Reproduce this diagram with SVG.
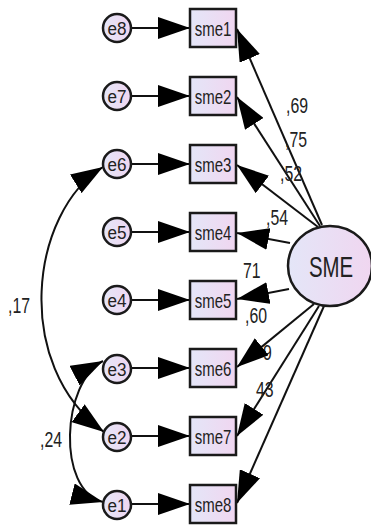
<svg xmlns="http://www.w3.org/2000/svg" width="371" height="529" viewBox="0 0 371 529">
<style>
.nd{stroke:#1a1a1a;stroke-width:2.5;fill:url(#g)}
.ln{stroke:#111;stroke-width:2;fill:none}
.t{font-family:"Liberation Sans",Arial,sans-serif;fill:#222}
.bx{font-size:20px;text-anchor:middle}
.ee{font-size:19px;text-anchor:middle}
.lb{font-size:22px}
</style>
<defs>
<linearGradient id="g" x1="0" y1="0" x2="1" y2="0">
<stop offset="0" stop-color="#e4e6f8"/>
<stop offset="1" stop-color="#f0d6f0"/>
</linearGradient>
<marker id="ah" markerUnits="userSpaceOnUse" viewBox="0 0 32 22" refX="32" refY="11" markerWidth="32" markerHeight="22" orient="auto">
<path d="M0,0 L32,11 L0,22 z" fill="#000"/>
</marker>
<marker id="as" markerUnits="userSpaceOnUse" viewBox="0 0 32 22" refX="32" refY="11" markerWidth="32" markerHeight="22" orient="auto-start-reverse">
<path d="M0,0 L32,11 L0,22 z" fill="#000"/>
</marker>
</defs>
<rect width="371" height="529" fill="#fff"/>

<g id="labels-under">
<text class="t lb" transform="translate(243,278) scale(0.72,1)">71</text>
<text class="t lb" transform="translate(263,360) scale(0.72,1)">9</text>
</g>

<g id="connectors">
<line class="ln" x1="131" y1="28" x2="190" y2="28" marker-end="url(#ah)"/>
<line class="ln" x1="131" y1="96" x2="190" y2="96" marker-end="url(#ah)"/>
<line class="ln" x1="131" y1="164" x2="190" y2="164" marker-end="url(#ah)"/>
<line class="ln" x1="131" y1="232" x2="190" y2="232" marker-end="url(#ah)"/>
<line class="ln" x1="131" y1="300" x2="190" y2="300" marker-end="url(#ah)"/>
<line class="ln" x1="131" y1="368" x2="190" y2="368" marker-end="url(#ah)"/>
<line class="ln" x1="131" y1="436" x2="190" y2="436" marker-end="url(#ah)"/>
<line class="ln" x1="131" y1="504" x2="190" y2="504" marker-end="url(#ah)"/>

<line class="ln" x1="322" y1="225" x2="237" y2="29" marker-end="url(#ah)"/>
<line class="ln" x1="320" y1="226" x2="237" y2="97" marker-end="url(#ah)"/>
<line class="ln" x1="318" y1="227" x2="237" y2="165" marker-end="url(#ah)"/>
<line class="ln" x1="290" y1="243" x2="237" y2="233" marker-end="url(#ah)"/>
<line class="ln" x1="289" y1="289" x2="237" y2="299" marker-end="url(#ah)"/>
<line class="ln" x1="314" y1="304" x2="237" y2="367" marker-end="url(#ah)"/>
<line class="ln" x1="319" y1="306" x2="237" y2="436" marker-end="url(#ah)"/>
<line class="ln" x1="324" y1="306" x2="237" y2="503" marker-end="url(#ah)"/>

<path class="ln" d="M103,167 C30,212 12,365 104,432" marker-start="url(#as)" marker-end="url(#ah)"/>
<path class="ln" d="M103,361 C62,382 56,490 103,502" marker-start="url(#as)" marker-end="url(#ah)"/>
</g>

<g id="e8"><ellipse class="nd" cx="117" cy="28" rx="14" ry="14"/><text class="t ee" transform="translate(117,35) scale(0.9,1)">e8</text></g>
<g id="e7"><ellipse class="nd" cx="117" cy="96" rx="14" ry="14"/><text class="t ee" transform="translate(117,103) scale(0.9,1)">e7</text></g>
<g id="e6"><ellipse class="nd" cx="117" cy="164" rx="14" ry="14"/><text class="t ee" transform="translate(117,171) scale(0.9,1)">e6</text></g>
<g id="e5"><ellipse class="nd" cx="117" cy="232" rx="14" ry="14"/><text class="t ee" transform="translate(117,239) scale(0.9,1)">e5</text></g>
<g id="e4"><ellipse class="nd" cx="117" cy="300" rx="14" ry="14"/><text class="t ee" transform="translate(117,307) scale(0.9,1)">e4</text></g>
<g id="e3"><ellipse class="nd" cx="117" cy="369" rx="14" ry="14"/><text class="t ee" transform="translate(117,376) scale(0.9,1)">e3</text></g>
<g id="e2"><ellipse class="nd" cx="117" cy="437" rx="14" ry="14"/><text class="t ee" transform="translate(117,444) scale(0.9,1)">e2</text></g>
<g id="e1"><ellipse class="nd" cx="117" cy="505" rx="14" ry="14"/><text class="t ee" transform="translate(117,512) scale(0.9,1)">e1</text></g>

<g id="sme1"><rect class="nd" x="190" y="9" width="46" height="38"/><text class="t bx" transform="translate(213,36) scale(0.75,1)">sme1</text></g>
<g id="sme2"><rect class="nd" x="190" y="77" width="46" height="38"/><text class="t bx" transform="translate(213,104) scale(0.75,1)">sme2</text></g>
<g id="sme3"><rect class="nd" x="190" y="145" width="46" height="38"/><text class="t bx" transform="translate(213,172) scale(0.75,1)">sme3</text></g>
<g id="sme4"><rect class="nd" x="190" y="213" width="46" height="38"/><text class="t bx" transform="translate(213,240) scale(0.75,1)">sme4</text></g>
<g id="sme5"><rect class="nd" x="190" y="281" width="46" height="38"/><text class="t bx" transform="translate(213,308) scale(0.75,1)">sme5</text></g>
<g id="sme6"><rect class="nd" x="190" y="349" width="46" height="38"/><text class="t bx" transform="translate(213,376) scale(0.75,1)">sme6</text></g>
<g id="sme7"><rect class="nd" x="190" y="417" width="46" height="38"/><text class="t bx" transform="translate(213,444) scale(0.75,1)">sme7</text></g>
<g id="sme8"><rect class="nd" x="190" y="485" width="46" height="38"/><text class="t bx" transform="translate(213,512) scale(0.75,1)">sme8</text></g>

<g id="SME"><ellipse class="nd" cx="330" cy="266" rx="42" ry="40"/><text class="t" font-size="30" text-anchor="middle" transform="translate(331,277) scale(0.68,1)">SME</text></g>

<g id="labels">
<text class="t lb" transform="translate(286,113) scale(0.72,1)">,69</text>
<text class="t lb" transform="translate(285,147) scale(0.72,1)">,75</text>
<text class="t lb" transform="translate(280,181) scale(0.72,1)">,52</text>
<text class="t lb" transform="translate(266,225) scale(0.72,1)">,54</text>
<text class="t lb" transform="translate(245,323) scale(0.72,1)">,60</text>
<text class="t lb" transform="translate(256,397) scale(0.72,1)">43</text>
<text class="t lb" transform="translate(8,313) scale(0.72,1)">,17</text>
<text class="t lb" transform="translate(40,447) scale(0.72,1)">,24</text>
</g>
</svg>
